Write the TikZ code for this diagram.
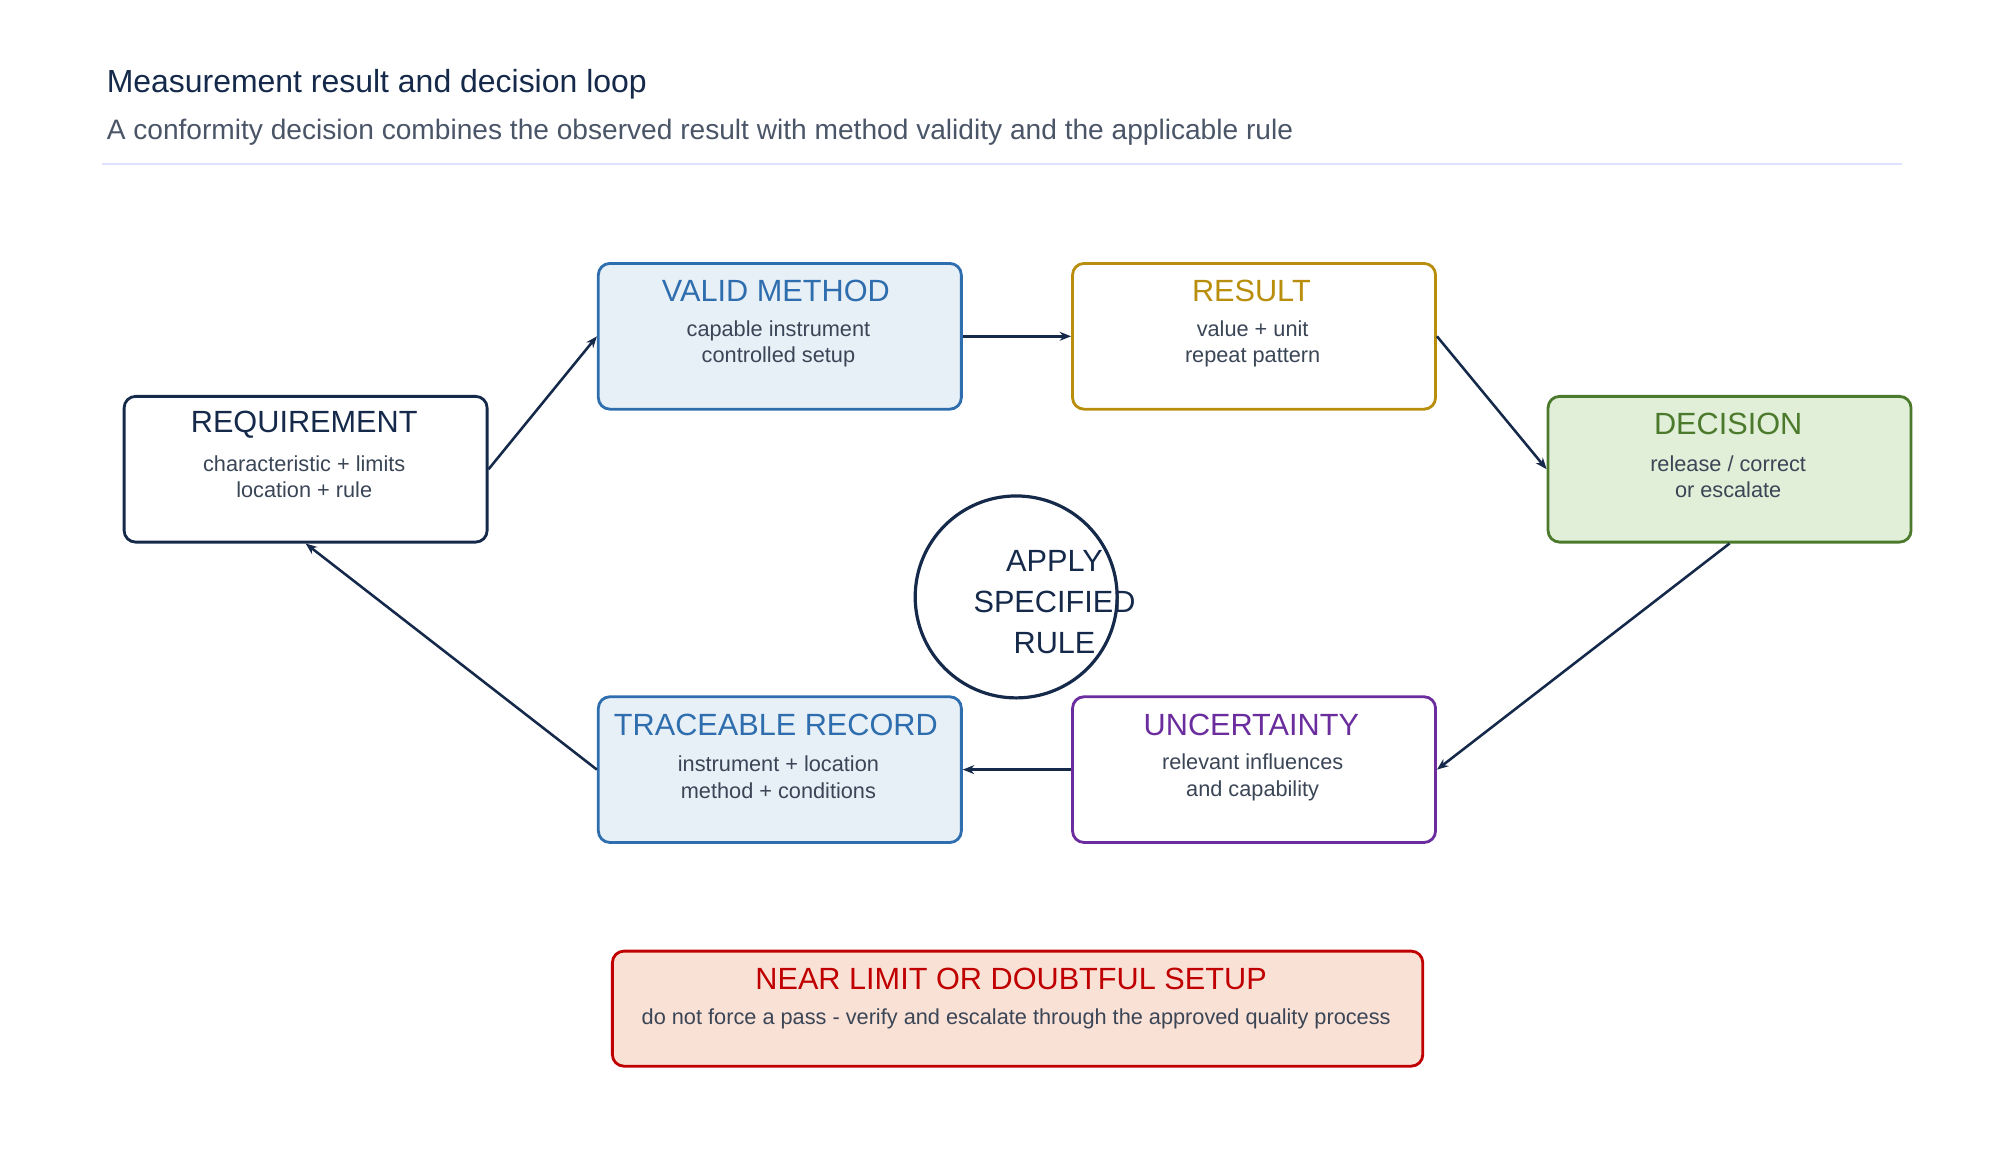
\documentclass[tikz,border=0pt]{standalone}
\usepackage{fontspec}
\setmainfont{Liberation Sans}
\usetikzlibrary{arrows.meta}
\definecolor{navy}{HTML}{15294A}
\definecolor{bblue}{HTML}{2F6EAE}
\definecolor{bfill}{HTML}{E7EFF7}
\definecolor{gold}{HTML}{B98E0C}
\definecolor{green}{HTML}{4C7A2C}
\definecolor{gfill}{HTML}{E1EFD8}
\definecolor{purp}{HTML}{6B2D9D}
\definecolor{red}{HTML}{C00000}
\definecolor{rfill}{HTML}{FAE1D6}
\definecolor{gtext}{HTML}{3A4556}
\definecolor{sub}{HTML}{4A5568}
\begin{document}
\begin{tikzpicture}[x=1pt,y=-1pt,
  box/.style={draw,rounded corners=9pt,line width=2.2pt,minimum width=284pt,minimum height=114pt,anchor=north west},
  ttl/.style={font=\fontsize{24}{28}\selectfont},
  bdy/.style={font=\fontsize{17}{21}\selectfont,text=gtext,align=center},
  arr/.style={draw=navy,line width=2pt,-{Stealth[length=9pt,width=7pt]}}]
\useasboundingbox (0,0) rectangle (1560,908);
\node[anchor=base west,text=navy,font=\fontsize{25}{30}\selectfont] (t) at (80,72) {Measurement result and decision loop};
\node[anchor=base west,text=sub,font=\fontsize{22}{26}\selectfont] (s) at (80,109) {A conformity decision combines the observed result with method validity and the applicable rule};
\draw[color=blue!12,line width=1.5pt] (80,128) -- (1488,128);
% boxes
\node[box,draw=navy,fill=white] (req) at (96,309) {};
\node[box,draw=bblue,fill=bfill] (val) at (467,205) {};
\node[box,draw=gold,fill=white] (res) at (838,205) {};
\node[box,draw=green,fill=gfill] (dec) at (1210,309) {};
\node[box,draw=purp,fill=white] (unc) at (838,544) {};
\node[box,draw=bblue,fill=bfill] (tra) at (467,544) {};
\node[box,draw=red,fill=rfill,minimum width=634pt,minimum height=90pt] (warn) at (478,743) {};
% texts
\node[ttl,text=navy] (reqt) at (238,332) {REQUIREMENT};
\node[bdy] (reqb) at (238,373) {characteristic + limits\\location + rule};
\node[ttl,text=bblue] (valt) at (607,228) {VALID METHOD};
\node[bdy] (valb) at (609,269) {capable instrument\\controlled setup};
\node[ttl,text=gold] (rest) at (979,228) {RESULT};
\node[bdy] (resb) at (980,269) {value + unit\\repeat pattern};
\node[ttl,text=green] (dect) at (1352,332) {DECISION};
\node[bdy] (decb) at (1352,373) {release / correct\\or escalate};
\node[ttl,text=purp] (unct) at (979,567) {UNCERTAINTY};
\node[bdy] (uncb) at (980,608) {relevant influences\\and capability};
\node[ttl,text=bblue] (trat) at (607,567) {TRACEABLE RECORD};
\node[bdy] (trab) at (609,608) {instrument + location\\method + conditions};
\node[ttl,text=red] (wt) at (791,766) {NEAR LIMIT OR DOUBTFUL SETUP};
\node[bdy] (wb) at (795,797) {do not force a pass - verify and escalate through the approved quality process};
% circle
\node[draw=navy,line width=2.5pt,circle,minimum size=158pt,fill=white] (c) at (795,467) {};
\node[text=navy,font=\fontsize{24}{32}\selectfont,align=center] (ct) at (825,471) {APPLY\\SPECIFIED\\RULE};
% arrows
\draw[arr] (req.east) -- (val.west);
\draw[arr] (val.east) -- (res.west);
\draw[arr] (res.east) -- (dec.west);
\draw[arr] (dec.south) -- (unc.east);
\draw[arr] (unc.west) -- (tra.east);
\draw[arr] (tra.west) -- (req.south);
\end{tikzpicture}
\end{document}
